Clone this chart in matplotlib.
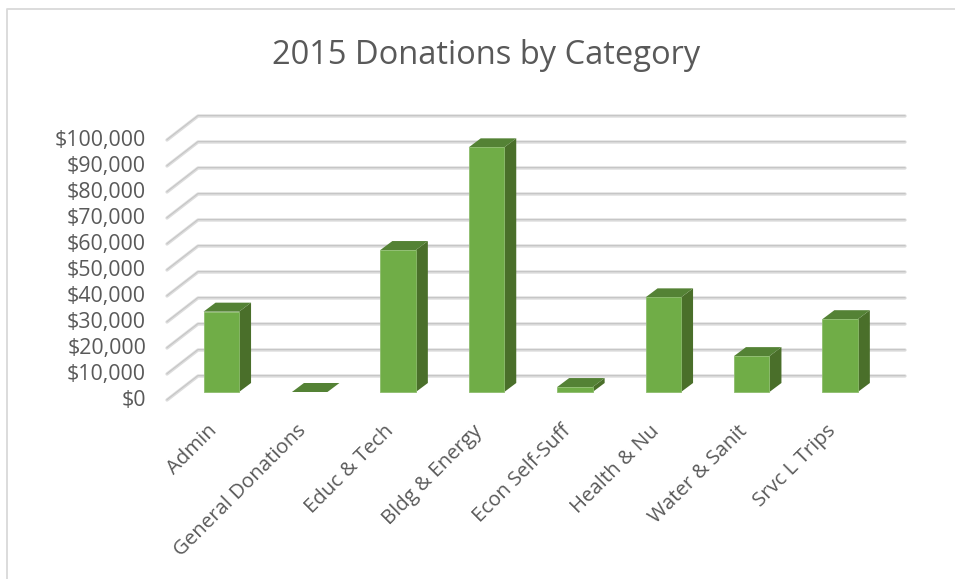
import matplotlib
matplotlib.use('Agg')
import matplotlib.pyplot as plt

categories = ['Admin', 'General Donations', 'Educ & Tech', 'Bldg & Energy',
              'Econ Self-Suff', 'Health & Nu', 'Water & Sanit', 'Srvc L Trips']
donations = [30900, 0, 54600, 94100, 1900, 36400, 13800, 28000]
ticks = list(range(0, 100001, 10000))
title = '2015 Donations by Category'

# Colours
front_col = '#70ad47'
top_col = '#548235'
side_col = '#4a6f2a'
text_col = '#595959'

W, H = 955, 579
plt.rcParams['font.family'] = ['Open Sans', 'DejaVu Sans']

fig = plt.figure(figsize=(W / 100, H / 100), dpi=100)
ax = fig.add_axes([0, 0, 1, 1])

# one category step is 88.4 px, 10000 dollars is 26 px
px_x = 1 / 88.4
px_y = 10000 / 26
ax.set_xlim(-221.3 * px_x, (W - 221.3) * px_x)
ax.set_ylim((392 - H) * px_y, 392 * px_y)
ax.axis('off')

bar_w = 35.5 * px_x
dx = 12 * px_x
dy = 9 * px_y

# Back wall gridlines and the diagonal floor lines
back_x = -23.3 * px_x
right_x = 683.7 * px_x
for t in ticks:
    y_back = t + 16 * px_y
    xs = [-54.3 * px_x, back_x, right_x]
    ys = [t - 8 * px_y, y_back, y_back]
    ax.plot(xs, ys, color='#dcdcdc', lw=2.4, solid_capstyle='round', solid_joinstyle='round', zorder=1)
    ax.plot(xs, [y + 0.4 * px_y for y in ys], color='#c4c4c4', lw=0.7, zorder=1.1)

# Bars: side, top, then front face
for i, v in enumerate(donations):
    l = i - bar_w / 2
    r = i + bar_w / 2
    if v > 0:
        ax.fill([r, r + dx, r + dx, r], [0, dy, v + dy, v], color=side_col, lw=0, zorder=2)
    ax.fill([l, r, r + dx, l + dx], [v, v, v + dy, v + dy], color=top_col, lw=0, zorder=2)
    if v > 0:
        ax.bar(i, v, width=bar_w, color=front_col, edgecolor='#8cbc6c', linewidth=0.6, zorder=3)

# Value labels at the front of the floor lines
for t in ticks:
    ax.text(-75.3 * px_x, t - 8.5 * px_y, '${:,}'.format(t), ha='right', va='center',
            fontsize=15.4, color=text_col)

# Category labels
for i, c in enumerate(categories):
    ax.text(i - 14 * px_x, -29 * px_y, c, rotation=45, rotation_mode='anchor', ha='right', va='top',
            fontsize=14.7, color=text_col)

ax.text(486.5 * px_x - 221.3 * px_x, (392 - 56) * px_y, title, ha='center', va='center',
        fontsize=23.5, color=text_col)

# Chart frame
frame_x = [(7 - 221.3) * px_x, (7 - 221.3) * px_x, (W - 221.3) * px_x]
frame_y = [(392 - H) * px_y, (392 - 9) * px_y, (392 - 9) * px_y]
ax.plot(frame_x, frame_y, color='#d9d9d9', lw=1.3, zorder=0)

fig.savefig('out.png', dpi=100)
